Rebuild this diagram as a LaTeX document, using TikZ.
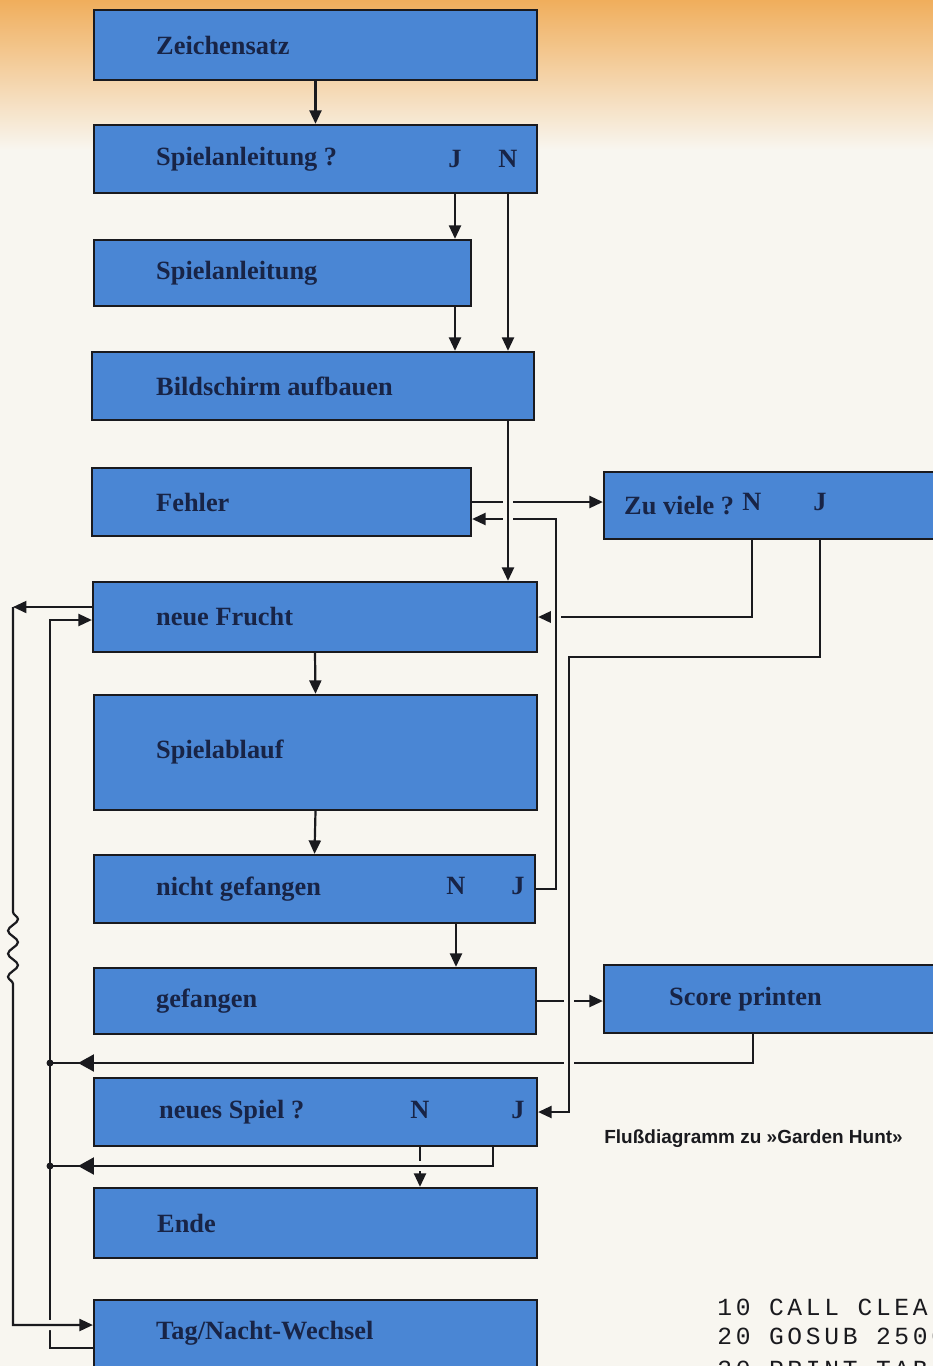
\documentclass[tikz,border=0pt]{standalone}
\usepackage{fontspec}
\setmainfont{Liberation Serif}
\setsansfont{Liberation Sans}
\newfontfamily\printerfont[LetterSpace=15]{Liberation Mono}
\usetikzlibrary{arrows.meta,decorations.pathmorphing,decorations.markings}

\definecolor{paper}{RGB}{248,246,240}
\definecolor{peach}{RGB}{240,174,92}
\definecolor{boxblue}{RGB}{74,134,212}
\definecolor{ink}{RGB}{26,26,30}
\definecolor{navy}{RGB}{24,36,70}

\tikzset{
  box/.style={draw=ink, line width=1.3pt, fill=boxblue, rectangle, inner sep=0pt},
  lbl/.style={anchor=west, text=navy, inner sep=0pt, font=\fontsize{15}{18}\selectfont\bfseries},
  yn/.style={text=navy, inner sep=0pt, font=\fontsize{15}{18}\selectfont\bfseries},
  line/.style={draw=ink, line width=1.25pt},
  arr/.style={line, -{Triangle[length=0.27cm,width=0.24cm]}},
  hop/.style={preaction={draw=paper, line width=0.2cm, -, shorten <=0.1cm, shorten >=0.1cm}},
  backarr/.style={line, postaction={decorate}, decoration={markings,
      mark=at position -0.56cm with {\arrow{Triangle[length=0.32cm,width=0.34cm]}}}},
  wave/.style={decoration={snake, amplitude=0.1cm, segment length=0.46cm}},
  code/.style={anchor=base west, text=ink, inner sep=0pt, font=\printerfont\fontsize{14}{17}\selectfont},
}

\begin{document}
\begin{tikzpicture}[x=0.02cm, y=-0.02cm]
    \useasboundingbox (0,0) rectangle (933,1366);
    \clip (0,0) rectangle (933,1366);
    \fill[paper] (0,0) rectangle (933,1366);
    \shade[top color=peach, bottom color=paper] (0,0) rectangle (933,150);

    % Nodes
    \node (zs) [box, minimum width=8.86cm, minimum height=1.4cm] at (315.5,45) {};
    \node (saq) [box, minimum width=8.86cm, minimum height=1.36cm] at (315.5,159) {};
    \node (sa) [box, minimum width=7.54cm, minimum height=1.32cm] at (282.5,273) {};
    \node (bs) [box, minimum width=8.84cm, minimum height=1.36cm] at (313,386) {};
    \node (fe) [box, minimum width=7.58cm, minimum height=1.36cm] at (281.5,502) {};
    \node (zv) [box, minimum width=6.92cm, minimum height=1.34cm] at (777,505.5) {};
    \node (nf) [box, minimum width=8.88cm, minimum height=1.4cm] at (315,617) {};
    \node (sp) [box, minimum width=8.86cm, minimum height=2.3cm] at (315.5,752.5) {};
    \node (ng) [box, minimum width=8.82cm, minimum height=1.36cm] at (314.5,889) {};
    \node (ge) [box, minimum width=8.84cm, minimum height=1.32cm] at (315,1001) {};
    \node (sc) [box, minimum width=6.92cm, minimum height=1.36cm] at (777,999) {};
    \node (ns) [box, minimum width=8.86cm, minimum height=1.36cm] at (315.5,1112) {};
    \node (en) [box, minimum width=8.86cm, minimum height=1.4cm] at (315.5,1223) {};
    \node (tn) [box, minimum width=8.86cm, minimum height=1.8cm] at (315.5,1345) {};

    \node (zs-t) [lbl] at ([xshift=1.26cm]zs.west) {Zeichensatz};
    \node (saq-t) [lbl] at ([xshift=1.26cm]saq.west) {Spielanleitung ?};
    \node (saqJ) [yn] at (455,159) {J};
    \node (saqN) [yn] at (508,159) {N};
    \node (sa-t) [lbl] at ([xshift=1.26cm]sa.west) {Spielanleitung};
    \node (bs-t) [lbl] at ([xshift=1.3cm]bs.west) {Bildschirm aufbauen};
    \node (fe-t) [lbl] at ([xshift=1.3cm]fe.west) {Fehler};
    \node (zv-t) [lbl] at ([xshift=0.42cm]zv.west) {Zu viele ?};
    \node (zvN) [yn] at (752,502) {N};
    \node (zvJ) [yn] at (820,502) {J};
    \node (nf-t) [lbl] at ([xshift=1.28cm]nf.west) {neue Frucht};
    \node (sp-t) [lbl] at ([xshift=1.26cm]sp.west) {Spielablauf};
    \node (ng-t) [lbl] at ([xshift=1.26cm]ng.west) {nicht gefangen};
    \node (ngN) [yn] at (456,886) {N};
    \node (ngJ) [yn] at (518,886) {J};
    \node (ge-t) [lbl] at ([xshift=1.26cm]ge.west) {gefangen};
    \node (sc-t) [lbl] at ([xshift=1.32cm]sc.west) {Score printen};
    \node (ns-t) [lbl] at ([xshift=1.32cm]ns.west) {neues Spiel ?};
    \node (nsN) [yn] at (420,1110) {N};
    \node (nsJ) [yn] at (518,1110) {J};
    \node (en-t) [lbl] at ([xshift=1.28cm]en.west) {Ende};
    \node (tn-t) [lbl] at ([xshift=1.26cm,yshift=0.24cm]tn.west) {Tag/Nacht-Wechsel};

    \node (cap) [anchor=west, text=ink, inner sep=0pt, font=\sffamily\bfseries\fontsize{10.8}{13}\selectfont] at (604,1139) {Flußdiagramm zu »Garden Hunt»};
    \node (code1) [code] at (717,1315) {10 CALL CLEAR};
    \node (code2) [code] at (717,1344) {20 GOSUB 2500};
    \node (code3) [code] at (717,1377) {30 PRINT TAB};

    % Helper points
    \coordinate (railA) at (556,0);
    \coordinate (railL) at (13,0);
    \coordinate (railM) at (50,0);
    \coordinate (bendJ) at (569,657);
    \coordinate (j1) at (50,1063);
    \coordinate (j2) at (50,1166);
    \coordinate (wv1) at (13,912);
    \coordinate (wv2) at (13,985);
    \coordinate (fein) at ([yshift=-0.34cm]fe.east);
    \coordinate (nfout) at ([yshift=0.2cm]nf.west);
    \coordinate (nfin) at ([yshift=-0.06cm]nf.west);
    \coordinate (tnin) at ([yshift=0.4cm]tn.west);
    \coordinate (tnout) at ([yshift=-0.06cm]tn.west);

    % Edges
    \draw[arr] (zs.south) -- (saq.north);
    \draw[arr] (saqJ |- saq.south) -- (saqJ |- sa.north);
    \draw[arr] (saqN |- saq.south) -- (saqN |- bs.north);
    \draw[arr] (saqJ |- sa.south) -- (saqJ |- bs.north);
    \draw[arr] (zvN |- zv.south) |- (nf.east);
    \draw[arr, hop] (ng.east) -| (railA |- fein) -- (fein);
    \draw[arr] (fe.east) -- (fe.east -| zv.west);
    \draw[arr, hop] (saqN |- bs.south) -- (saqN |- nf.north);
    \draw[arr] (nf.south) -- (sp.north);
    \draw[arr] (sp.south) -- (ng.north);
    \draw[arr] (ngN |- ng.south) -- (ngN |- ge.north);
    \draw[arr] (ge.east) -- (ge.east -| sc.west);
    \draw[backarr] ([xshift=-0.48cm]sc.south) |- (j1);
    \draw[arr, hop] (zvJ |- zv.south) |- (bendJ) |- (ns.east);
    \draw[arr] (nsN |- ns.south) -- (nsN |- en.north);
    \draw[arr] (tnout) -| (railM |- nfin) -- (nfin);
    \draw[backarr, hop] ([xshift=3.55cm]ns.south) |- (j2);
    \fill[ink] (j1) circle (0.07cm);
    \fill[ink] (j2) circle (0.07cm);
    \draw[arr] (nfout) -- (railL |- nfout);
    \draw[arr, hop, wave] (railL |- nfout) -- (wv1) decorate {-- (wv2)} -- (railL |- tnin) -- (tnin);
\end{tikzpicture}
\end{document}
